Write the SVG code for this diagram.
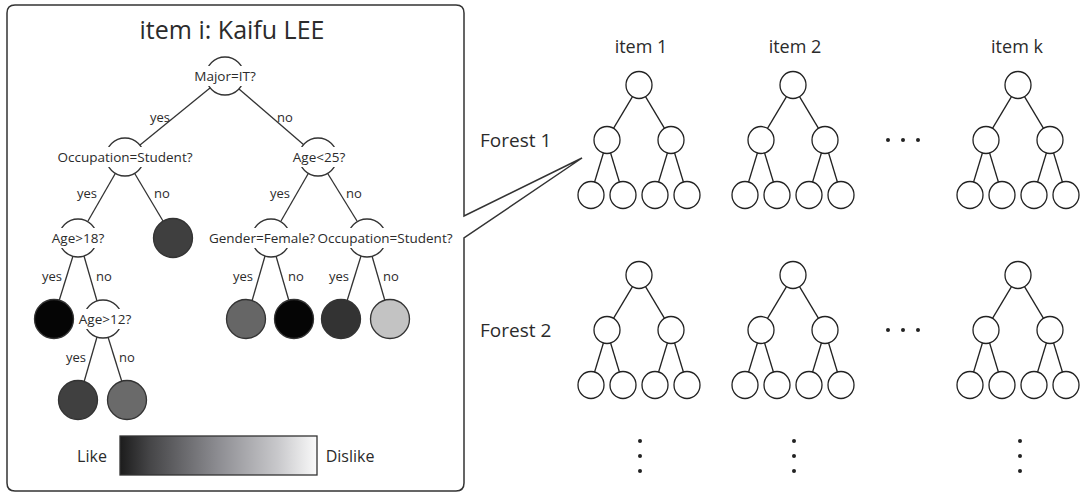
<svg xmlns="http://www.w3.org/2000/svg" xmlns:xlink="http://www.w3.org/1999/xlink" width="1083" height="495" viewBox="0 0 1083 495">
<style>
text{font-family:"Open Sans","Noto Sans","Liberation Sans",sans-serif;fill:#2b2b2b}
.title{font-size:25px;text-anchor:middle}
.nl{font-size:13.5px;text-anchor:middle}
.el{font-size:13px;text-anchor:middle}
.lg{font-size:16px;text-anchor:middle}
.it{font-size:18px;text-anchor:middle}
.fr{font-size:19px;text-anchor:start}
.dn{fill:#fff;stroke:#333;stroke-width:1.3}
.bg{fill:#fff;stroke:none}
.lf{stroke:#333;stroke-width:1.3}
.edge{stroke:#333;stroke-width:1.3;fill:none}
.fe{fill:#fff;stroke:#222;stroke-width:1.3}
.fl{stroke:#222;stroke-width:1.3;fill:none}
.dot{fill:#222}
</style>
<defs>
<linearGradient id="grad" x1="0" y1="0" x2="1" y2="0">
<stop offset="0" stop-color="#1c1c1c"/>
<stop offset="0.15" stop-color="#454547"/>
<stop offset="0.5" stop-color="#8d8d92"/>
<stop offset="0.8" stop-color="#c8c8cb"/>
<stop offset="1" stop-color="#fafafa"/>
</linearGradient>
<g id="ftree">
<g class="fl">
<line x1="-6.5" y1="11.7" x2="-25.5" y2="43.3"/>
<line x1="6.5" y1="11.7" x2="25.5" y2="43.3"/>
<line x1="-35.6" y1="68" x2="-44.4" y2="97"/>
<line x1="-28.4" y1="68" x2="-19.6" y2="97"/>
<line x1="28.4" y1="68" x2="19.6" y2="97"/>
<line x1="35.6" y1="68" x2="44.4" y2="97"/>
</g>
<ellipse class="fe" cx="0" cy="0" rx="13" ry="13.5"/>
<ellipse class="fe" cx="-32" cy="55" rx="13" ry="13.5"/>
<ellipse class="fe" cx="32" cy="55" rx="13" ry="13.5"/>
<ellipse class="fe" cx="-48" cy="110" rx="13" ry="13.5"/>
<ellipse class="fe" cx="-16" cy="110" rx="13" ry="13.5"/>
<ellipse class="fe" cx="16" cy="110" rx="13" ry="13.5"/>
<ellipse class="fe" cx="48" cy="110" rx="13" ry="13.5"/>
</g>
</defs>

<g id="panel">
<path d="M464,238 L464,483 Q464,491 456,491 L15,491 Q7,491 7,483 L7,13 Q7,5 15,5 L456,5 Q464,5 464,13 L464,216 L582,158 Z" fill="#fff" stroke="#333" stroke-width="1.5" stroke-linejoin="miter"/>
<text class="title" x="232" y="39">item i: Kaifu LEE</text>
</g>

<g id="connectors">
<line class="edge" x1="210" y1="88" x2="140" y2="145"/>
<line class="edge" x1="239" y1="89" x2="304" y2="145"/>
<line class="edge" x1="115" y1="174" x2="88" y2="221"/>
<line class="edge" x1="135" y1="174" x2="163" y2="221"/>
<line class="edge" x1="308" y1="174" x2="281" y2="221"/>
<line class="edge" x1="328" y1="174" x2="357" y2="221"/>
<line class="edge" x1="73" y1="256" x2="59" y2="301"/>
<line class="edge" x1="84" y1="256" x2="97" y2="301"/>
<line class="edge" x1="265" y1="256" x2="252" y2="301"/>
<line class="edge" x1="276" y1="256" x2="289" y2="301"/>
<line class="edge" x1="361" y1="256" x2="347" y2="301"/>
<line class="edge" x1="372" y1="256" x2="385" y2="301"/>
<line class="edge" x1="97" y1="337" x2="84" y2="382"/>
<line class="edge" x1="108" y1="337" x2="122" y2="382"/>
<text class="el" x="160" y="122">yes</text>
<text class="el" x="285" y="122">no</text>
<text class="el" x="87" y="198">yes</text>
<text class="el" x="162" y="198">no</text>
<text class="el" x="280" y="198">yes</text>
<text class="el" x="354" y="198">no</text>
<text class="el" x="52" y="281">yes</text>
<text class="el" x="104" y="281">no</text>
<text class="el" x="243" y="281">yes</text>
<text class="el" x="296" y="281">no</text>
<text class="el" x="339" y="281">yes</text>
<text class="el" x="391" y="281">no</text>
<text class="el" x="76" y="362">yes</text>
<text class="el" x="127" y="362">no</text>
</g>

<g id="n-major">
<circle class="dn" cx="225" cy="76" r="19"/>
<rect class="bg" x="193" y="66" width="64" height="20"/>
<text class="nl" x="225" y="81">Major=IT?</text>
</g>
<g id="n-occupation1">
<circle class="dn" cx="125" cy="157" r="19"/>
<rect class="bg" x="57" y="147" width="137" height="20"/>
<text class="nl" x="125" y="162">Occupation=Student?</text>
</g>
<g id="n-age25">
<circle class="dn" cx="318" cy="157" r="19"/>
<rect class="bg" x="292" y="147" width="55" height="20"/>
<text class="nl" x="319" y="162">Age&lt;25?</text>
</g>
<g id="n-age18">
<circle class="dn" cx="78" cy="238" r="19"/>
<rect class="bg" x="51" y="228" width="54" height="20"/>
<text class="nl" x="78" y="243">Age&gt;18?</text>
</g>
<g id="leaf-1">
<circle class="lf" cx="173" cy="238" r="19.5" fill="#3f3f3f"/>
</g>
<g id="n-gender">
<circle class="dn" cx="271" cy="238" r="19"/>
<rect class="bg" x="210" y="228" width="105" height="20"/>
<text class="nl" x="262" y="243">Gender=Female?</text>
</g>
<g id="n-occupation2">
<circle class="dn" cx="367" cy="238" r="19"/>
<rect class="bg" x="317" y="228" width="137" height="20"/>
<text class="nl" x="385" y="243">Occupation=Student?</text>
</g>
<g id="leaf-2">
<circle class="lf" cx="54" cy="319" r="19.5" fill="#050505"/>
</g>
<g id="n-age12">
<circle class="dn" cx="103" cy="319" r="19"/>
<rect class="bg" x="77" y="309" width="55" height="20"/>
<text class="nl" x="105" y="324">Age&gt;12?</text>
</g>
<g id="leaf-3">
<circle class="lf" cx="246" cy="319" r="19.5" fill="#666666"/>
</g>
<g id="leaf-4">
<circle class="lf" cx="294" cy="319" r="19.5" fill="#050505"/>
</g>
<g id="leaf-5">
<circle class="lf" cx="341" cy="319" r="19.5" fill="#333333"/>
</g>
<g id="leaf-6">
<circle class="lf" cx="390" cy="319" r="19.5" fill="#c3c3c3"/>
</g>
<g id="leaf-7">
<circle class="lf" cx="78" cy="400" r="19.5" fill="#404040"/>
</g>
<g id="leaf-8">
<circle class="lf" cx="127" cy="400" r="19.5" fill="#6a6a6a"/>
</g>

<g id="legend">
<rect x="120" y="436" width="197" height="39" fill="url(#grad)" stroke="#333" stroke-width="1.3"/>
<text class="lg" x="92" y="462">Like</text>
<text class="lg" x="350" y="462">Dislike</text>
</g>

<g id="forest-labels">
<text class="it" x="641" y="53">item 1</text>
<text class="it" x="795" y="53">item 2</text>
<text class="it" x="1017" y="53">item k</text>
<text class="fr" x="480" y="147">Forest 1</text>
<text class="fr" x="480" y="337">Forest 2</text>
</g>

<use id="f1-item1" xlink:href="#ftree" href="#ftree" x="639" y="85"/>
<use id="f1-item2" xlink:href="#ftree" href="#ftree" x="793" y="85"/>
<use id="f1-itemk" xlink:href="#ftree" href="#ftree" x="1018" y="85"/>
<use id="f2-item1" xlink:href="#ftree" href="#ftree" x="639" y="275"/>
<use id="f2-item2" xlink:href="#ftree" href="#ftree" x="793" y="275"/>
<use id="f2-itemk" xlink:href="#ftree" href="#ftree" x="1018" y="275"/>

<g id="ellipsis">
<circle class="dot" cx="888" cy="140" r="2"/>
<circle class="dot" cx="903" cy="140" r="2"/>
<circle class="dot" cx="918" cy="140" r="2"/>
<circle class="dot" cx="888" cy="330" r="2"/>
<circle class="dot" cx="903" cy="330" r="2"/>
<circle class="dot" cx="918" cy="330" r="2"/>
<circle class="dot" cx="640" cy="441" r="2"/>
<circle class="dot" cx="640" cy="456" r="2"/>
<circle class="dot" cx="640" cy="471" r="2"/>
<circle class="dot" cx="794" cy="441" r="2"/>
<circle class="dot" cx="794" cy="456" r="2"/>
<circle class="dot" cx="794" cy="471" r="2"/>
<circle class="dot" cx="1020" cy="441" r="2"/>
<circle class="dot" cx="1020" cy="456" r="2"/>
<circle class="dot" cx="1020" cy="471" r="2"/>
</g>
</svg>
